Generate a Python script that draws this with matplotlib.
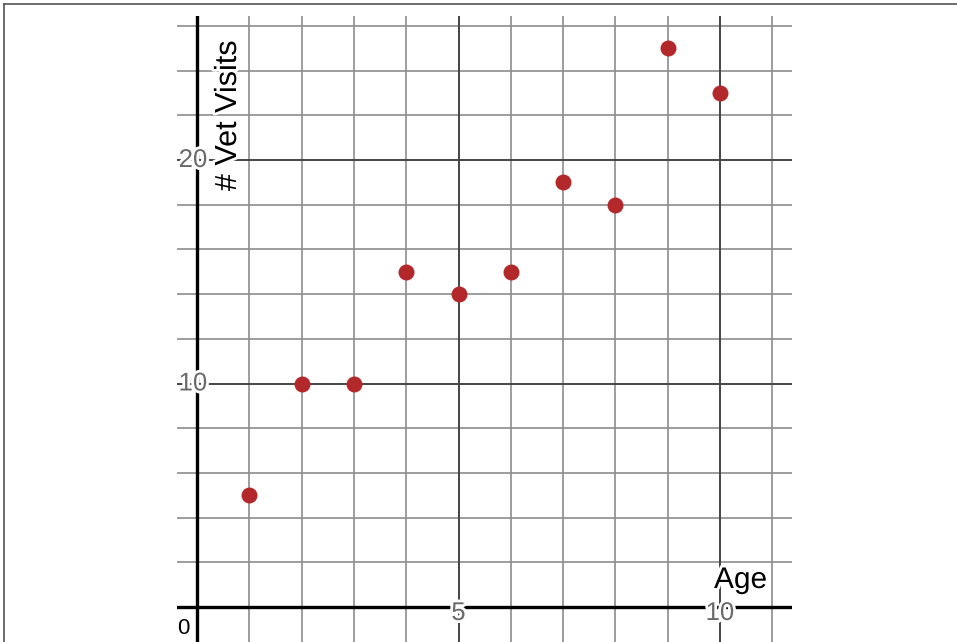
import matplotlib
matplotlib.use("Agg")
import matplotlib.pyplot as plt
import matplotlib.patheffects as pe
from matplotlib.lines import Line2D

plt.rcParams['font.family'] = ['Liberation Sans', 'DejaVu Sans']

ages = [1, 2, 3, 4, 5, 6, 7, 8, 9, 10]
visits = [5, 10, 10, 15, 14, 15, 19, 18, 25, 23]
x_tick_labels = ["5", "10"]
x_ticks = [5, 10]
y_tick_labels = ["10", "20"]
y_ticks = [10, 20]
x_title = "Age"
y_title = "# Vet Visits"

W, H = 957, 642
fig = plt.figure(figsize=(W / 100, H / 100), dpi=100)

left_px, right_px, top_px = 177, 792, 16
ax = fig.add_axes([left_px / W, 0, (right_px - left_px) / W, 1 - top_px / H])

# scale: x=0 at 197px, 52.3 px/unit; y=0 at 607px, 22.35 px/unit
xpx, ypx = 52.3, 22.35
ax.set_xlim((left_px - 197) / xpx, (right_px - 197) / xpx)
ax.set_ylim((607 - H) / ypx, (607 - top_px) / ypx)
ax.axis('off')

# minor grid
for xv in range(0, 12):
    if xv % 5 != 0:
        ax.axvline(xv, color='#8c8c8c', lw=1.2, zorder=1)
for yv in range(0, 27, 2):
    if yv % 10 != 0:
        ax.axhline(yv, color='#8c8c8c', lw=1.2, zorder=1)
# major grid
for xv in x_ticks:
    ax.axvline(xv, color='#444444', lw=1.4, zorder=2)
for yv in y_ticks:
    ax.axhline(yv, color='#444444', lw=1.4, zorder=2)
# axes
ax.axvline(0, color='black', lw=2.4, zorder=3)
ax.axhline(0, color='black', lw=2.4, zorder=3)

halo = [pe.withStroke(linewidth=4, foreground='white')]
for xv, lab in zip(x_ticks, x_tick_labels):
    ax.text(xv, (607 - 613) / ypx, lab, ha='center', va='center', fontsize=18.5,
            color='#6a6a6a', path_effects=halo, zorder=4)
for yv, lab in zip(y_ticks, y_tick_labels):
    ax.text((193 - 197) / xpx, yv, lab, ha='center', va='center', fontsize=18.5,
            color='#6a6a6a', path_effects=halo, zorder=4)
ax.text((183 - 197) / xpx, (607 - 629) / ypx, "0", ha='center', va='center',
        fontsize=16, color='black', zorder=4, clip_on=False)

ax.text((714 - 197) / xpx, (607 - 588) / ypx, x_title, ha='left', va='baseline',
        fontsize=21.5, color='black', path_effects=halo, zorder=4)
ax.text((228 - 197) / xpx, (607 - 116) / ypx, y_title, ha='center', va='center',
        rotation=90, fontsize=22, color='black', path_effects=halo, zorder=4)

ax.plot(ages, visits, 'o', color='#b3282b', markersize=11.5, markeredgewidth=0,
        zorder=5)

# outer frame (top and left)
fig.add_artist(Line2D([4 / W, 4 / W], [0, 1 - 3.5 / H], color='#555555', lw=1.2,
                      transform=fig.transFigure))
fig.add_artist(Line2D([4 / W, 1], [1 - 3.5 / H, 1 - 3.5 / H], color='#555555', lw=1.2,
                      transform=fig.transFigure))

fig.savefig('out.png', dpi=100)
